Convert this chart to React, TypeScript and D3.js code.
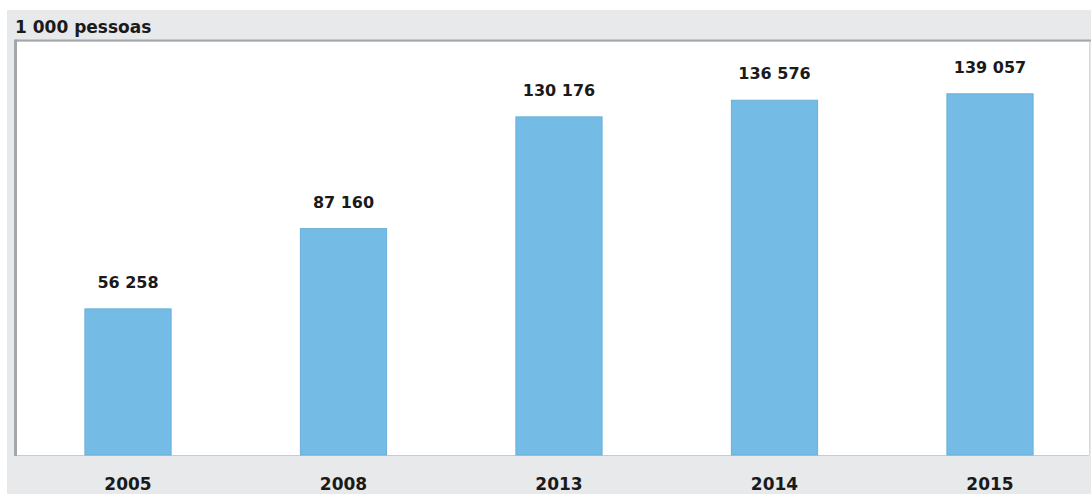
import React from "react";
import * as d3 from "d3";

const years = ["2005", "2008", "2013", "2014", "2015"];
const values = [56258, 87160, 130176, 136576, 139057];
const unitLabel = "1 000 pessoas";

const W = 1091;
const H = 494;
const plot = { left: 17, top: 42, right: 1089, bottom: 455 };

function fmt(v: number) {
  return d3.format(",")(v).replace(/,/g, " ");
}

export default function App() {
  const x = d3
    .scalePoint<string>()
    .domain(years)
    .range([20.25, 1097.75])
    .padding(0.5);
  const step = x.step();
  const barW = step * 0.4;
  const y = d3.scaleLinear().domain([0, 159000]).range([plot.bottom, plot.top]);

  return (
    <svg
      width={W}
      height={H}
      style={{ position: "absolute", left: 0, top: 0, display: "block" }}
      fontFamily="'DejaVu Sans', sans-serif"
    >
      <rect x={0} y={0} width={W} height={H} fill="#ffffff" />
      <rect x={7} y={10} width={W - 7} height={H - 10} fill="#e7e9eb" />
      <rect
        x={plot.left}
        y={plot.top}
        width={plot.right - plot.left}
        height={plot.bottom - plot.top}
        fill="#ffffff"
      />
      <line x1={plot.left - 1.5} x2={W} y1={plot.top - 1.5} y2={plot.top - 1.5} stroke="#a3a7aa" strokeWidth={2} />
      <line x1={plot.left - 1.5} x2={plot.left - 1.5} y1={plot.top - 2.5} y2={plot.bottom + 1} stroke="#a3a7aa" strokeWidth={3} />
      <line x1={plot.left} x2={plot.right} y1={plot.bottom + 0.5} y2={plot.bottom + 0.5} stroke="#c9ccce" strokeWidth={1} />
      <line x1={plot.right + 0.5} x2={plot.right + 0.5} y1={plot.top} y2={plot.bottom} stroke="#d4d7d9" strokeWidth={1} />

      <text x={15} y={33} fontSize={17} fontWeight="bold" fill="#1a1a1a">
        {unitLabel}
      </text>

      {years.map((yr, i) => {
        const cx = x(yr)!;
        const v = values[i];
        const top = y(v);
        return (
          <g key={yr}>
            <rect
              x={cx - barW / 2}
              y={top}
              width={barW}
              height={plot.bottom - top}
              fill="#74bbe6"
              stroke="#6aafd9"
              strokeWidth={1}
            />
            <text
              x={cx}
              y={top - 21}
              textAnchor="middle"
              fontSize={16}
              fontWeight="bold"
              fill="#1a1a1a"
            >
              {fmt(v)}
            </text>
            <text
              x={cx}
              y={490}
              textAnchor="middle"
              fontSize={17}
              fontWeight="bold"
              fill="#1a1a1a"
            >
              {yr}
            </text>
          </g>
        );
      })}
    </svg>
  );
}
